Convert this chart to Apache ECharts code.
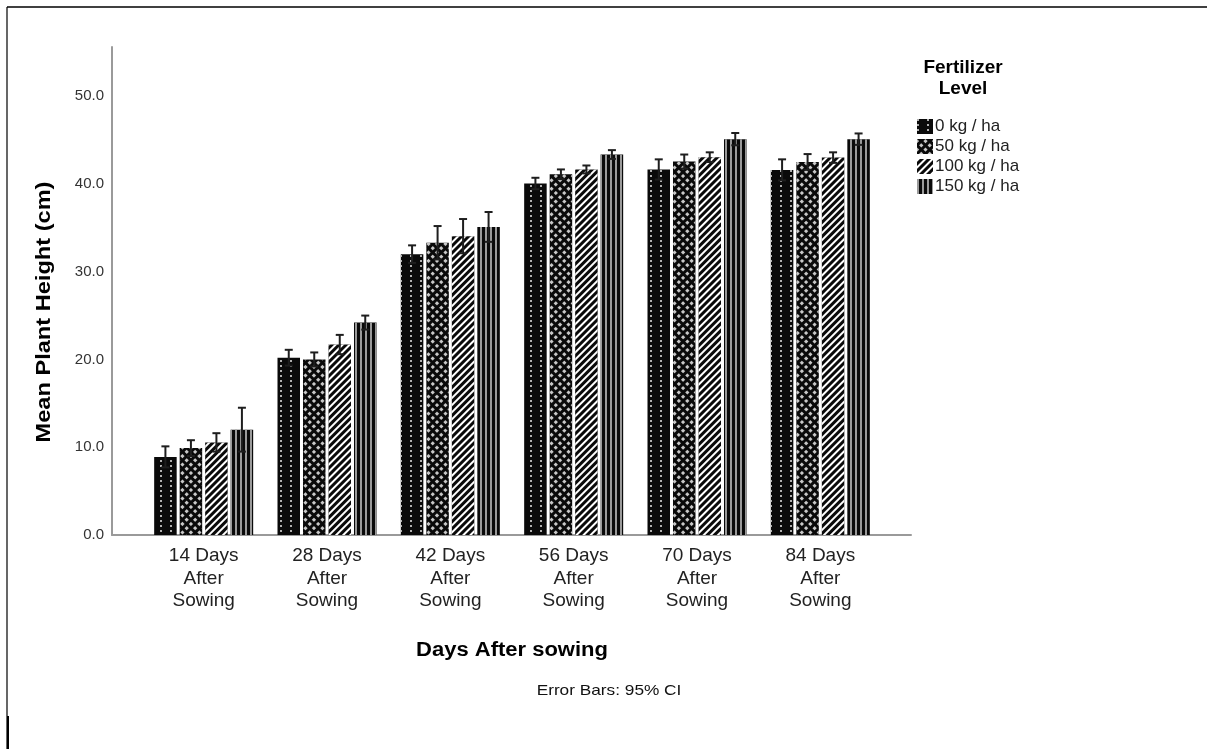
<!DOCTYPE html>
<html><head><meta charset="utf-8">
<script src="https://cdn.jsdelivr.net/npm/echarts@6/dist/echarts.min.js"></script>
<style>html,body{margin:0;padding:0;background:#fff}#c{width:1207px;height:749px}</style>
</head><body><div id="c"></div>
<script>
// ---- data ----
const categories = ['14 Days\nAfter\nSowing', '28 Days\nAfter\nSowing', '42 Days\nAfter\nSowing',
                    '56 Days\nAfter\nSowing', '70 Days\nAfter\nSowing', '84 Days\nAfter\nSowing'];
const levels = ['0 kg / ha', '50 kg / ha', '100 kg / ha', '150 kg / ha'];
const mean0   = [8.9, 20.2, 32.0, 40.05, 41.65, 41.6];
const mean50  = [9.9, 20.0, 33.3, 41.1, 42.55, 42.5];
const mean100 = [10.55, 21.7, 34.05, 41.65, 43.05, 43.0];
const mean150 = [12.0, 24.2, 35.1, 43.35, 45.1, 45.1];
// half-widths of 95% CI
const ci0   = [1.2, 0.9, 1.0, 0.65, 1.15, 1.2];
const ci50  = [0.9, 0.8, 1.9, 0.55, 0.8, 0.9];
const ci100 = [1.05, 1.1, 1.95, 0.45, 0.55, 0.6];
const ci150 = [2.5, 0.8, 1.7, 0.5, 0.7, 0.65];
const yMin = 0, yMax = 55.6, yInterval = 10;

const means = [mean0, mean50, mean100, mean150];
const cis = [ci0, ci50, ci100, ci150];

const FONT = 'Liberation Sans';
const decals = [
  {symbol: 'rect', symbolSize: 1, color: '#b0b0b0', dashArrayX: [2, 8], dashArrayY: [2, 3]},
  {symbol: 'rect', symbolSize: 1, color: '#c8c8c8', dashArrayX: [3, 3], dashArrayY: [3, 3], rotation: Math.PI / 4},
  {symbol: 'rect', symbolSize: 1, color: '#ffffff', dashArrayX: [1, 0], dashArrayY: [2, 3], rotation: -Math.PI / 4},
  {symbol: 'rect', symbolSize: 1, color: '#9a9a9a', dashArrayX: [2, 3], dashArrayY: [1, 0]}
];

const BAR_W = 22.5, BAR_GAP_PX = 3;
const series = [];
levels.forEach((name, k) => {
  series.push({
    type: 'bar', name: name, xAxisIndex: 1, yAxisIndex: 1,
    data: means[k], barWidth: BAR_W, barGap: (BAR_GAP_PX / BAR_W * 100).toFixed(2) + '%',
    barCategoryGap: '20%',
    itemStyle: {color: '#0a0a0a', decal: decals[k]},
    emphasis: {disabled: true}
  });
});
levels.forEach((name, k) => {
  series.push({
    type: 'custom', name: 'err' + k, xAxisIndex: 1, yAxisIndex: 1, z: 10,
    data: means[k].map((m, i) => [i, m - cis[k][i], m + cis[k][i]]),
    renderItem: function (params, api) {
      const off = (k - 1.5) * (BAR_W + BAR_GAP_PX);
      const lo = api.coord([api.value(0), api.value(1)]);
      const hi = api.coord([api.value(0), api.value(2)]);
      const x = lo[0] + off, cw = 4;
      const st = {stroke: '#1e1e1e', lineWidth: 2};
      return {type: 'group', children: [
        {type: 'line', shape: {x1: x, y1: lo[1], x2: x, y2: hi[1]}, style: st},
        {type: 'line', shape: {x1: x - cw, y1: hi[1], x2: x + cw, y2: hi[1]}, style: st},
        {type: 'line', shape: {x1: x - cw, y1: lo[1], x2: x + cw, y2: lo[1]}, style: st}
      ]};
    }
  });
});

const chart = echarts.init(document.getElementById('c'), null, {renderer: 'canvas'});
chart.setOption({
  backgroundColor: '#ffffff',
  animation: false,
  grid: [
    {left: 112, right: 296, top: 47, bottom: 214},
    {left: 142, right: 325, top: 47, bottom: 214}
  ],
  xAxis: [
    {type: 'value', gridIndex: 0, min: 0, max: 1, axisLabel: {show: false}, axisTick: {show: false},
     splitLine: {show: false}, axisLine: {show: true, lineStyle: {color: '#9a9a9a', width: 2}}},
    {type: 'category', gridIndex: 1, data: categories, axisLine: {show: false}, axisTick: {show: false},
     axisLabel: {margin: 10, fontFamily: FONT, fontSize: 19, lineHeight: 22.5, color: '#222'}}
  ],
  yAxis: [
    {type: 'value', gridIndex: 0, min: yMin, max: yMax, interval: yInterval,
     axisLine: {show: true, lineStyle: {color: '#9a9a9a', width: 2}}, axisTick: {show: false},
     splitLine: {show: false}, axisLabel: {showMaxLabel: false, margin: 8, fontFamily: FONT, fontSize: 15, color: '#333',
       formatter: v => v.toFixed(1)}},
    {type: 'value', gridIndex: 1, min: yMin, max: yMax, interval: yInterval, show: false}
  ],
  legend: {
    data: levels, orient: 'vertical', left: 912, top: 113, itemWidth: 16, itemHeight: 15, itemGap: 3,
    icon: 'rect', selectedMode: false,
    textStyle: {fontFamily: FONT, fontSize: 17, color: '#222', padding: [0, 0, 0, -3]}
  },
  graphic: [
    {type: 'line', shape: {x1: 7, y1: 7, x2: 1207, y2: 7}, style: {stroke: '#000', lineWidth: 1.5}},
    {type: 'line', shape: {x1: 7, y1: 7, x2: 7, y2: 749}, style: {stroke: '#000', lineWidth: 1.2}},
    {type: 'line', shape: {x1: 8, y1: 716, x2: 8, y2: 749}, style: {stroke: '#000', lineWidth: 2}},
    {type: 'text', x: 963, y: 57, style: {text: 'Fertilizer\nLevel', font: 'bold 19px "Liberation Sans"',
      fill: '#000', textAlign: 'center', lineHeight: 21}},
    {type: 'text', style: {text: 'Mean Plant Height (cm)', font: 'bold 20px "Liberation Sans"', fill: '#000',
      textAlign: 'center', textVerticalAlign: 'middle'}, x: 44, y: 312, rotation: Math.PI / 2, scaleX: 1.18},
    {type: 'text', style: {text: 'Days After sowing', font: 'bold 20px "Liberation Sans"', fill: '#000',
      textAlign: 'center', textVerticalAlign: 'middle'}, x: 512, y: 650, scaleX: 1.1},
    {type: 'text', style: {text: 'Error Bars: 95% CI', font: '15px "Liberation Sans"', fill: '#111',
      textAlign: 'center', textVerticalAlign: 'middle'}, x: 609, y: 691, scaleX: 1.15}
  ],
  series: series
});
</script></body></html>
